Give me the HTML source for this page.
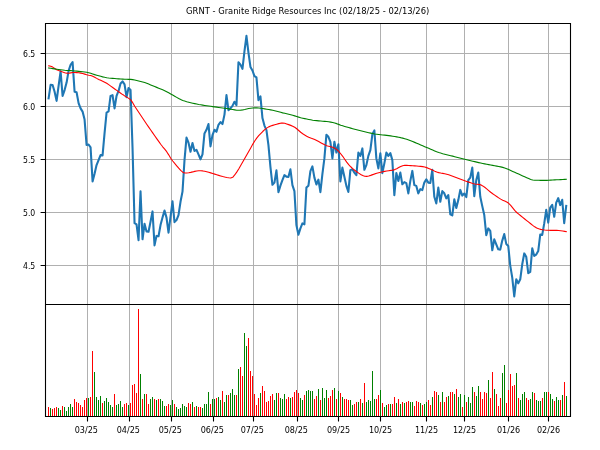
<!DOCTYPE html>
<html lang="en"><head><meta charset="utf-8"><title>GRNT - Granite Ridge Resources Inc</title>
<style>html,body{margin:0;padding:0;background:#fff}svg{display:block;will-change:transform}text{font-family:"DejaVu Sans","Liberation Sans",sans-serif;font-size:8.33px;fill:#000}</style></head><body>
<svg width="600" height="450" viewBox="0 0 600 450">
<rect width="600" height="450" fill="#fff"/>
<path d="M87.5 23.5V416.5M129.5 23.5V416.5M171.5 23.5V416.5M213.5 23.5V416.5M253.5 23.5V416.5M297.5 23.5V416.5M338.5 23.5V416.5M380.5 23.5V416.5M426.5 23.5V416.5M464.5 23.5V416.5M508.5 23.5V416.5M548.5 23.5V416.5M45.5 53.5H570.5M45.5 106.5H570.5M45.5 159.5H570.5M45.5 212.5H570.5M45.5 265.5H570.5" stroke="#b0b0b0" stroke-width="1" fill="none"/>
<path d="M48 407h1V416h-1zM52 409h1V416h-1zM54 408h1V416h-1zM56 407h1V416h-1zM62 406h1V416h-1zM74 399h1V416h-1zM76 402h1V416h-1zM78 403h1V416h-1zM80 405h1V416h-1zM82 407h1V416h-1zM84 400h1V416h-1zM86 398h1V416h-1zM90 397h1V416h-1zM92 351h1V416h-1zM102 403h1V416h-1zM114 394h1V416h-1zM124 404h1V416h-1zM126 403h1V416h-1zM130 403h1V416h-1zM132 385h1V416h-1zM134 384h1V416h-1zM136 393h1V416h-1zM138 309h1V416h-1zM142 399h1V416h-1zM146 394h1V416h-1zM148 404h1V416h-1zM154 399h1V416h-1zM158 399h1V416h-1zM166 406h1V416h-1zM168 404h1V416h-1zM174 404h1V416h-1zM188 403h1V416h-1zM190 404h1V416h-1zM194 407h1V416h-1zM198 407h1V416h-1zM200 407h1V416h-1zM210 404h1V416h-1zM216 398h1V416h-1zM222 391h1V416h-1zM228 395h1V416h-1zM236 395h1V416h-1zM240 367h1V416h-1zM242 376h1V416h-1zM248 338h1V416h-1zM250 371h1V416h-1zM252 376h1V416h-1zM254 394h1V416h-1zM256 405h1V416h-1zM258 398h1V416h-1zM262 386h1V416h-1zM264 391h1V416h-1zM266 402h1V416h-1zM268 401h1V416h-1zM270 396h1V416h-1zM272 394h1V416h-1zM278 393h1V416h-1zM286 399h1V416h-1zM288 397h1V416h-1zM292 397h1V416h-1zM294 392h1V416h-1zM296 390h1V416h-1zM298 393h1V416h-1zM304 395h1V416h-1zM314 399h1V416h-1zM316 396h1V416h-1zM320 400h1V416h-1zM328 398h1V416h-1zM330 396h1V416h-1zM332 390h1V416h-1zM336 399h1V416h-1zM340 393h1V416h-1zM344 399h1V416h-1zM346 399h1V416h-1zM348 400h1V416h-1zM354 404h1V416h-1zM356 402h1V416h-1zM360 399h1V416h-1zM364 383h1V416h-1zM376 399h1V416h-1zM378 395h1V416h-1zM382 403h1V416h-1zM388 404h1V416h-1zM392 404h1V416h-1zM394 397h1V416h-1zM398 399h1V416h-1zM402 402h1V416h-1zM406 402h1V416h-1zM408 401h1V416h-1zM414 406h1V416h-1zM416 401h1V416h-1zM418 402h1V416h-1zM422 405h1V416h-1zM428 400h1V416h-1zM430 405h1V416h-1zM434 391h1V416h-1zM436 392h1V416h-1zM440 402h1V416h-1zM444 402h1V416h-1zM446 397h1V416h-1zM450 392h1V416h-1zM452 392h1V416h-1zM456 389h1V416h-1zM462 407h1V416h-1zM466 402h1V416h-1zM474 392h1V416h-1zM480 392h1V416h-1zM482 399h1V416h-1zM484 392h1V416h-1zM486 393h1V416h-1zM490 398h1V416h-1zM492 372h1V416h-1zM496 394h1V416h-1zM498 406h1V416h-1zM500 398h1V416h-1zM506 403h1V416h-1zM508 390h1V416h-1zM510 374h1V416h-1zM512 386h1V416h-1zM514 385h1V416h-1zM518 398h1V416h-1zM526 398h1V416h-1zM528 400h1V416h-1zM534 393h1V416h-1zM542 398h1V416h-1zM548 392h1V416h-1zM554 401h1V416h-1zM560 400h1V416h-1zM564 382h1V416h-1z" fill="#ff0000" stroke="none" shape-rendering="crispEdges"/>
<path d="M50 408h1V416h-1zM58 408h1V416h-1zM60 410h1V416h-1zM64 407h1V416h-1zM66 411h1V416h-1zM68 407h1V416h-1zM70 404h1V416h-1zM72 407h1V416h-1zM88 398h1V416h-1zM94 372h1V416h-1zM96 397h1V416h-1zM98 400h1V416h-1zM100 396h1V416h-1zM104 401h1V416h-1zM106 398h1V416h-1zM108 402h1V416h-1zM110 405h1V416h-1zM112 407h1V416h-1zM116 405h1V416h-1zM118 404h1V416h-1zM120 401h1V416h-1zM122 407h1V416h-1zM128 405h1V416h-1zM140 374h1V416h-1zM144 394h1V416h-1zM150 399h1V416h-1zM152 397h1V416h-1zM156 400h1V416h-1zM160 399h1V416h-1zM162 401h1V416h-1zM164 406h1V416h-1zM170 405h1V416h-1zM172 400h1V416h-1zM176 407h1V416h-1zM178 409h1V416h-1zM180 408h1V416h-1zM182 404h1V416h-1zM184 406h1V416h-1zM186 407h1V416h-1zM192 402h1V416h-1zM196 406h1V416h-1zM202 408h1V416h-1zM204 404h1V416h-1zM206 404h1V416h-1zM208 392h1V416h-1zM212 399h1V416h-1zM214 399h1V416h-1zM218 397h1V416h-1zM220 400h1V416h-1zM224 402h1V416h-1zM226 395h1V416h-1zM230 393h1V416h-1zM232 389h1V416h-1zM234 395h1V416h-1zM238 369h1V416h-1zM244 333h1V416h-1zM246 346h1V416h-1zM260 393h1V416h-1zM274 400h1V416h-1zM276 393h1V416h-1zM280 398h1V416h-1zM282 399h1V416h-1zM284 394h1V416h-1zM290 398h1V416h-1zM300 398h1V416h-1zM302 400h1V416h-1zM306 391h1V416h-1zM308 390h1V416h-1zM310 391h1V416h-1zM312 391h1V416h-1zM318 389h1V416h-1zM322 388h1V416h-1zM324 398h1V416h-1zM326 390h1V416h-1zM334 388h1V416h-1zM338 391h1V416h-1zM342 397h1V416h-1zM350 400h1V416h-1zM352 405h1V416h-1zM358 402h1V416h-1zM362 403h1V416h-1zM366 402h1V416h-1zM368 400h1V416h-1zM370 401h1V416h-1zM372 371h1V416h-1zM374 399h1V416h-1zM380 390h1V416h-1zM384 407h1V416h-1zM386 405h1V416h-1zM390 404h1V416h-1zM396 403h1V416h-1zM400 404h1V416h-1zM404 403h1V416h-1zM410 402h1V416h-1zM412 402h1V416h-1zM420 403h1V416h-1zM424 404h1V416h-1zM426 402h1V416h-1zM432 397h1V416h-1zM438 395h1V416h-1zM442 392h1V416h-1zM448 396h1V416h-1zM454 394h1V416h-1zM458 397h1V416h-1zM460 394h1V416h-1zM464 395h1V416h-1zM468 397h1V416h-1zM470 403h1V416h-1zM472 387h1V416h-1zM476 396h1V416h-1zM478 386h1V416h-1zM488 380h1V416h-1zM494 389h1V416h-1zM502 373h1V416h-1zM504 365h1V416h-1zM516 373h1V416h-1zM520 400h1V416h-1zM522 394h1V416h-1zM524 392h1V416h-1zM530 399h1V416h-1zM532 392h1V416h-1zM536 400h1V416h-1zM538 401h1V416h-1zM540 401h1V416h-1zM544 392h1V416h-1zM546 392h1V416h-1zM550 394h1V416h-1zM552 399h1V416h-1zM556 397h1V416h-1zM558 400h1V416h-1zM562 395h1V416h-1zM566 396h1V416h-1z" fill="#008000" stroke="none" shape-rendering="crispEdges"/>
<clipPath id="c"><rect x="45.5" y="23.5" width="525.0" height="281.0"/></clipPath>
<g clip-path="url(#c)" fill="none" stroke-linejoin="round">
<polyline points="48.60,98.4 50.60,84.8 52.60,85.0 54.60,91.8 56.59,100.9 58.59,85.9 60.59,71.4 62.59,95.9 64.59,90.1 66.59,82.6 68.59,70.9 70.58,64.8 72.58,62.1 74.58,91.8 76.58,92.2 78.58,103.1 80.58,108.4 82.57,111.6 84.57,119.6 86.57,144.9 88.57,144.5 90.57,147.4 92.57,181.4 94.57,173.8 96.56,165.1 98.56,160.1 100.56,155.1 102.56,155.4 104.56,133.1 106.56,112.6 108.56,111.4 110.55,95.9 112.55,95.1 114.55,108.4 116.55,95.9 118.55,90.9 120.55,83.4 122.54,81.4 124.54,84.3 126.54,97.1 128.54,88.1 130.54,90.1 132.54,148.1 134.54,223.1 136.53,224.3 138.53,240.1 140.53,191.4 142.53,239.3 144.53,223.8 146.53,231.4 148.53,231.7 150.52,221.8 152.52,211.4 154.52,245.4 156.52,235.9 158.52,236.3 160.52,225.1 162.51,217.6 164.51,210.6 166.51,217.6 168.51,232.6 170.51,216.8 172.51,201.4 174.51,222.1 176.50,220.1 178.50,215.1 180.50,201.8 182.50,191.6 184.50,160.1 186.50,137.6 188.49,142.6 190.49,151.8 192.49,143.1 194.49,150.9 196.49,149.8 198.49,154.3 200.49,159.3 202.48,154.3 204.48,133.4 206.48,129.8 208.48,124.1 210.48,146.4 212.48,135.1 214.48,129.8 216.47,131.8 218.47,124.8 220.47,122.1 222.47,124.1 224.47,114.6 226.47,95.1 228.47,110.1 230.46,108.4 232.46,105.9 234.46,101.8 236.46,105.1 238.46,62.3 240.46,64.6 242.45,68.8 244.45,51.4 246.45,35.9 248.45,52.6 250.45,66.9 252.45,70.5 254.45,76.1 256.44,77.4 258.44,100.1 260.44,96.4 262.44,118.1 264.44,125.6 266.44,130.1 268.44,145.1 270.43,166.8 272.43,184.8 274.43,182.6 276.43,170.4 278.43,192.1 280.43,185.6 282.42,180.1 284.42,175.1 286.42,176.6 288.42,176.9 290.42,169.3 292.42,185.1 294.42,191.1 296.41,225.1 298.41,234.8 300.41,228.4 302.41,223.4 304.41,224.3 306.41,187.6 308.41,185.8 310.40,171.1 312.40,166.4 314.40,177.6 316.40,184.5 318.40,179.7 320.40,192.1 322.39,174.1 324.39,158.4 326.39,134.8 328.39,136.8 330.39,141.8 332.39,158.4 334.39,141.8 336.38,152.6 338.38,144.3 340.38,181.4 342.38,167.6 344.38,176.8 346.38,185.9 348.38,191.9 350.37,170.1 352.37,169.3 354.37,172.6 356.37,175.1 358.37,152.6 360.37,155.9 362.36,148.4 364.36,169.8 366.36,165.1 368.36,155.9 370.36,150.1 372.36,134.3 374.36,130.4 376.35,158.4 378.35,168.4 380.35,153.4 382.35,173.1 384.35,163.4 386.35,152.6 388.35,155.9 390.34,153.1 392.34,160.1 394.34,195.1 396.34,173.1 398.34,180.9 400.34,172.6 402.33,184.3 404.33,182.1 406.33,183.1 408.33,193.4 410.33,180.9 412.33,170.9 414.33,185.1 416.32,185.9 418.32,193.4 420.32,189.1 422.32,190.1 424.32,182.6 426.32,179.3 428.31,182.6 430.31,182.9 432.31,169.8 434.31,196.8 436.31,203.4 438.31,187.6 440.31,201.8 442.30,191.1 444.30,193.3 446.30,198.4 448.30,195.1 450.30,214.3 452.30,215.4 454.30,199.3 456.29,207.9 458.29,200.1 460.29,189.9 462.29,195.6 464.29,193.6 466.29,197.1 468.29,180.1 470.28,177.6 472.28,167.6 474.28,196.1 476.28,180.1 478.28,172.6 480.28,196.8 482.27,206.1 484.27,215.1 486.27,235.1 488.27,228.4 490.27,230.9 492.27,250.3 494.27,239.3 496.26,244.3 498.26,249.3 500.26,249.6 502.26,240.6 504.26,234.1 506.26,243.9 508.25,245.9 510.25,265.6 512.25,277.6 514.25,296.4 516.25,279.3 518.25,283.4 520.25,279.3 522.24,264.3 524.24,253.4 526.24,256.8 528.24,273.1 530.24,271.8 532.24,248.3 534.24,255.9 536.23,254.6 538.23,251.1 540.23,234.6 542.23,234.9 544.23,223.4 546.23,209.8 548.23,222.6 550.22,207.6 552.22,204.8 554.22,216.8 556.22,202.6 558.22,198.1 560.22,205.1 562.21,199.8 564.21,223.1 566.21,205.9" stroke="#1f77b4" stroke-width="2.08" stroke-linecap="square"/>
<polyline points="48.7,65.8 50.7,66.26 52.7,67.1 54.7,68.44 56.7,69.7 58.7,70.57 60.7,71.34 62.7,72.05 64.7,72.69 66.7,73.17 68.7,73.31 70.7,72.9 72.7,72.52 74.7,72.54 76.7,72.62 78.7,72.79 80.7,73.09 82.7,73.55 84.7,74.12 86.7,74.71 88.7,75.17 90.7,75.48 92.7,76.26 94.7,77.28 96.7,78.37 98.7,79.4 100.7,80.31 102.7,81.19 104.7,82.15 106.7,83.3 108.7,84.65 110.7,86.08 112.7,87.55 114.7,88.99 116.7,90.39 118.7,91.79 120.7,93.18 122.7,94.58 124.7,95.91 126.7,97.1 128.7,98.36 130.7,99.91 132.7,102.68 134.7,106.23 136.7,109.25 138.7,112.25 140.7,115.25 142.7,118.25 144.7,121.24 146.7,124.2 148.7,127.11 150.7,129.99 152.7,132.85 154.7,135.72 156.7,138.59 158.7,141.44 160.7,144.27 162.7,146.78 164.7,149.16 166.7,151.7 168.7,154.84 170.7,158.22 172.7,161.02 174.7,163.47 176.7,165.8 178.7,168.19 180.7,170.44 182.7,172.15 184.7,172.98 186.7,173.05 188.7,172.74 190.7,172.38 192.7,171.91 194.7,171.39 196.7,170.97 198.7,170.78 200.7,170.78 202.7,170.92 204.7,171.22 206.7,171.7 208.7,172.29 210.7,172.89 212.7,173.49 214.7,174.11 216.7,174.73 218.7,175.36 220.7,175.99 222.7,176.59 224.7,177.08 226.7,177.47 228.7,177.8 230.7,178.05 232.7,177.29 234.7,174.95 236.7,172.11 238.7,168.92 240.7,165.48 242.7,162.0 244.7,158.5 246.7,155.0 248.7,151.46 250.7,147.9 252.7,144.35 254.7,140.99 256.7,138.14 258.7,135.68 260.7,133.52 262.7,131.52 264.7,129.68 266.7,128.11 268.7,126.87 270.7,126.05 272.7,125.38 274.7,124.77 276.7,124.2 278.7,123.64 280.7,123.16 282.7,122.96 284.7,123.28 286.7,123.92 288.7,124.64 290.7,125.37 292.7,126.23 294.7,127.31 296.7,128.77 298.7,130.53 300.7,132.26 302.7,133.68 304.7,134.98 306.7,136.17 308.7,137.19 310.7,138.01 312.7,138.75 314.7,139.56 316.7,140.53 318.7,141.6 320.7,142.7 322.7,143.8 324.7,144.85 326.7,145.7 328.7,146.27 330.7,146.74 332.7,147.3 334.7,148.14 336.7,149.51 338.7,151.46 340.7,153.78 342.7,156.3 344.7,159.2 346.7,162.13 348.7,164.66 350.7,166.77 352.7,168.6 354.7,170.23 356.7,171.7 358.7,173.12 360.7,174.44 362.7,175.53 364.7,176.24 366.7,176.41 368.7,176.0 370.7,175.36 372.7,174.62 374.7,173.9 376.7,173.3 378.7,172.8 380.7,172.31 382.7,171.82 384.7,171.37 386.7,170.98 388.7,170.68 390.7,170.42 392.7,170.11 394.7,169.6 396.7,168.7 398.7,167.6 400.7,166.53 402.7,165.69 404.7,165.3 406.7,165.34 408.7,165.45 410.7,165.59 412.7,165.75 414.7,165.9 416.7,166.04 418.7,166.19 420.7,166.38 422.7,166.61 424.7,166.99 426.7,167.62 428.7,168.42 430.7,169.28 432.7,170.15 434.7,171.13 436.7,172.0 438.7,172.61 440.7,173.04 442.7,173.39 444.7,173.75 446.7,174.2 448.7,174.84 450.7,175.58 452.7,176.32 454.7,177.08 456.7,177.84 458.7,178.6 460.7,179.34 462.7,180.06 464.7,180.76 466.7,181.46 468.7,182.14 470.7,182.82 472.7,183.5 474.7,184.04 476.7,184.23 478.7,184.39 480.7,184.85 482.7,185.89 484.7,187.28 486.7,188.87 488.7,190.55 490.7,192.22 492.7,193.77 494.7,195.16 496.7,196.52 498.7,197.85 500.7,199.13 502.7,200.15 504.7,201.02 506.7,202.0 508.7,203.31 510.7,205.36 512.7,207.91 514.7,210.46 516.7,212.5 518.7,214.12 520.7,215.74 522.7,217.35 524.7,218.96 526.7,220.56 528.7,222.16 530.7,223.75 532.7,225.33 534.7,226.82 536.7,227.98 538.7,228.82 540.7,229.36 542.7,229.74 544.7,230.01 546.7,230.2 548.7,230.32 550.7,230.36 552.7,230.36 554.7,230.36 556.7,230.41 558.7,230.53 560.7,230.75 562.7,231.03 564.7,231.38 566.3,231.7" stroke="#ff0000" stroke-width="1.1" stroke-linecap="square"/>
<polyline points="48.7,68.0 50.7,68.31 52.7,68.61 54.7,68.91 56.7,69.2 58.7,69.49 60.7,69.76 62.7,70.03 64.7,70.27 66.7,70.45 68.7,70.55 70.7,70.63 72.7,70.75 74.7,70.94 76.7,71.15 78.7,71.36 80.7,71.59 82.7,71.81 84.7,72.02 86.7,72.29 88.7,72.71 90.7,73.3 92.7,73.97 94.7,74.61 96.7,75.19 98.7,75.77 100.7,76.33 102.7,76.85 104.7,77.31 106.7,77.68 108.7,77.97 110.7,78.2 112.7,78.4 114.7,78.57 116.7,78.74 118.7,78.89 120.7,79.03 122.7,79.16 124.7,79.27 126.7,79.31 128.7,79.34 130.7,79.42 132.7,79.62 134.7,79.97 136.7,80.43 138.7,80.95 140.7,81.49 142.7,82.01 144.7,82.59 146.7,83.3 148.7,84.1 150.7,84.93 152.7,85.76 154.7,86.58 156.7,87.37 158.7,88.14 160.7,88.92 162.7,89.74 164.7,90.65 166.7,91.69 168.7,92.81 170.7,93.95 172.7,95.06 174.7,96.21 176.7,97.38 178.7,98.51 180.7,99.55 182.7,100.4 184.7,101.09 186.7,101.67 188.7,102.18 190.7,102.67 192.7,103.16 194.7,103.64 196.7,104.08 198.7,104.48 200.7,104.81 202.7,105.12 204.7,105.43 206.7,105.74 208.7,106.04 210.7,106.33 212.7,106.62 214.7,106.9 216.7,107.17 218.7,107.44 220.7,107.71 222.7,107.98 224.7,108.26 226.7,108.55 228.7,108.88 230.7,109.23 232.7,109.58 234.7,109.91 236.7,110.2 238.7,110.3 240.7,110.16 242.7,109.89 244.7,109.53 246.7,109.02 248.7,108.53 250.7,108.21 252.7,108.0 254.7,107.88 256.7,107.89 258.7,108.04 260.7,108.28 262.7,108.55 264.7,108.86 266.7,109.2 268.7,109.55 270.7,109.91 272.7,110.29 274.7,110.73 276.7,111.23 278.7,111.77 280.7,112.31 282.7,112.85 284.7,113.34 286.7,113.81 288.7,114.28 290.7,114.75 292.7,115.27 294.7,115.87 296.7,116.51 298.7,117.13 300.7,117.68 302.7,118.18 304.7,118.64 306.7,119.06 308.7,119.45 310.7,119.82 312.7,120.17 314.7,120.45 316.7,120.67 318.7,120.86 320.7,121.02 322.7,121.18 324.7,121.35 326.7,121.56 328.7,121.8 330.7,122.12 332.7,122.53 334.7,123.05 336.7,123.65 338.7,124.37 340.7,125.22 342.7,125.83 344.7,126.42 346.7,127.0 348.7,127.57 350.7,128.12 352.7,128.66 354.7,129.18 356.7,129.7 358.7,130.22 360.7,130.73 362.7,131.25 364.7,131.75 366.7,132.24 368.7,132.71 370.7,133.16 372.7,133.58 374.7,133.96 376.7,134.26 378.7,134.52 380.7,134.75 382.7,134.95 384.7,135.15 386.7,135.37 388.7,135.62 390.7,135.91 392.7,136.21 394.7,136.52 396.7,136.86 398.7,137.24 400.7,137.66 402.7,138.14 404.7,138.7 406.7,139.32 408.7,140.01 410.7,140.75 412.7,141.54 414.7,142.37 416.7,143.22 418.7,144.08 420.7,144.94 422.7,145.79 424.7,146.65 426.7,147.5 428.7,148.36 430.7,149.22 432.7,150.08 434.7,150.91 436.7,151.7 438.7,152.43 440.7,153.07 442.7,153.66 444.7,154.19 446.7,154.69 448.7,155.18 450.7,155.66 452.7,156.15 454.7,156.66 456.7,157.17 458.7,157.68 460.7,158.19 462.7,158.7 464.7,159.2 466.7,159.7 468.7,160.19 470.7,160.68 472.7,161.17 474.7,161.65 476.7,162.12 478.7,162.59 480.7,163.04 482.7,163.45 484.7,163.84 486.7,164.22 488.7,164.59 490.7,164.96 492.7,165.34 494.7,165.74 496.7,166.13 498.7,166.5 500.7,166.89 502.7,167.36 504.7,167.94 506.7,168.7 508.7,169.59 510.7,170.51 512.7,171.43 514.7,172.33 516.7,173.22 518.7,174.12 520.7,175.01 522.7,175.91 524.7,176.82 526.7,177.72 528.7,178.62 530.7,179.48 532.7,180.01 534.7,180.23 536.7,180.28 538.7,180.31 540.7,180.35 542.7,180.39 544.7,180.4 546.7,180.37 548.7,180.28 550.7,180.16 552.7,180.03 554.7,179.91 556.7,179.79 558.7,179.68 560.7,179.58 562.7,179.47 564.7,179.37 566.3,179.3" stroke="#008000" stroke-width="1.1" stroke-linecap="square"/>
</g>
<path d="M45.5 23.5H570.5V416.5H45.5ZM45.5 304.5H570.5" stroke="#000" stroke-width="1.1" fill="none" stroke-linejoin="miter"/>
<path d="M87.5 416.5v4.9M129.5 416.5v4.9M171.5 416.5v4.9M213.5 416.5v4.9M253.5 416.5v4.9M297.5 416.5v4.9M338.5 416.5v4.9M380.5 416.5v4.9M426.5 416.5v4.9M464.5 416.5v4.9M508.5 416.5v4.9M548.5 416.5v4.9M45.5 53.5h-4.9M45.5 106.5h-4.9M45.5 159.5h-4.9M45.5 212.5h-4.9M45.5 265.5h-4.9" stroke="#000" stroke-width="1.1" fill="none"/>
<text transform="translate(86.3 433) scale(0.97 1)" text-anchor="middle">03/25</text>
<text transform="translate(128.3 433) scale(0.97 1)" text-anchor="middle">04/25</text>
<text transform="translate(170.3 433) scale(0.97 1)" text-anchor="middle">05/25</text>
<text transform="translate(212.3 433) scale(0.97 1)" text-anchor="middle">06/25</text>
<text transform="translate(252.3 433) scale(0.97 1)" text-anchor="middle">07/25</text>
<text transform="translate(296.3 433) scale(0.97 1)" text-anchor="middle">08/25</text>
<text transform="translate(338.6 433) scale(0.97 1)" text-anchor="middle">09/25</text>
<text transform="translate(380.6 433) scale(0.97 1)" text-anchor="middle">10/25</text>
<text transform="translate(426.6 433) scale(0.97 1)" text-anchor="middle">11/25</text>
<text transform="translate(464.6 433) scale(0.97 1)" text-anchor="middle">12/25</text>
<text transform="translate(508.6 433) scale(0.97 1)" text-anchor="middle">01/26</text>
<text transform="translate(548.6 433) scale(0.97 1)" text-anchor="middle">02/26</text>
<text transform="translate(35.3 57.0) scale(0.93 1)" text-anchor="end">6.5</text>
<text transform="translate(35.3 110.0) scale(0.93 1)" text-anchor="end">6.0</text>
<text transform="translate(35.3 163.0) scale(0.93 1)" text-anchor="end">5.5</text>
<text transform="translate(35.3 216.0) scale(0.93 1)" text-anchor="end">5.0</text>
<text transform="translate(35.3 269.0) scale(0.93 1)" text-anchor="end">4.5</text>
<text transform="translate(307.7 13.95) scale(1.008 1.04)" text-anchor="middle">GRNT - Granite Ridge Resources Inc (02/18/25 - 02/13/26)</text>
</svg></body></html>
